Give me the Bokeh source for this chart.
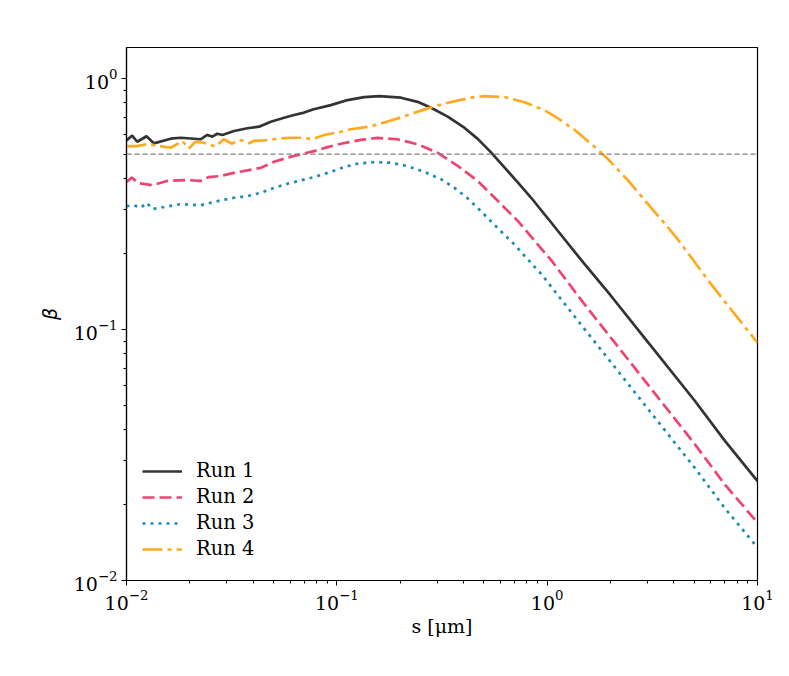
from bokeh.plotting import figure
from bokeh.models import FixedTicker, LogTickFormatter, Span
from bokeh.embed import file_html
from bokeh.resources import INLINE

# ---------------- data ----------------
series_names = ["Run 1", "Run 2", "Run 3", "Run 4"]

s1 = [0.0100, 0.01064, 0.01124, 0.01245, 0.01349, 0.01622, 0.01808, 0.0225, 0.02421,
      0.02558, 0.02703, 0.02856, 0.03245, 0.03758, 0.04268, 0.04853, 0.05613, 0.06263,
      0.06988, 0.07765, 0.0936, 0.1125, 0.1349, 0.159, 0.2017, 0.2421, 0.2805, 0.3366,
      0.4038, 0.4676, 0.541, 0.6263, 0.7248, 0.8393, 0.9707, 1.045, 1.125, 1.5, 2.0,
      3.0, 5.0, 7.0, 10.0]
b1 = [0.567, 0.593, 0.560, 0.589, 0.552, 0.576, 0.581, 0.573, 0.596, 0.587, 0.603,
      0.596, 0.618, 0.634, 0.643, 0.673, 0.698, 0.716, 0.732, 0.755, 0.784, 0.821,
      0.844, 0.852, 0.839, 0.808, 0.765, 0.705, 0.637, 0.575, 0.508, 0.443, 0.386,
      0.335, 0.288, 0.267, 0.247, 0.183, 0.137, 0.0895, 0.0524, 0.0360, 0.0249]

s2 = [0.0100, 0.0106, 0.0114, 0.0133, 0.0156, 0.0195, 0.0225, 0.0246, 0.0280, 0.0324,
      0.0376, 0.0435, 0.0503, 0.0582, 0.0674, 0.0780, 0.0903, 0.1045, 0.1300, 0.1558,
      0.1940, 0.2421, 0.3022, 0.3772, 0.4676, 0.5835, 0.7248, 0.9025, 1.045, 1.5, 2.0,
      3.0, 5.0, 7.0, 10.0]
b2 = [0.387, 0.403, 0.383, 0.376, 0.391, 0.394, 0.391, 0.405, 0.409, 0.421, 0.431,
      0.441, 0.466, 0.484, 0.500, 0.514, 0.533, 0.550, 0.570, 0.580, 0.573, 0.547,
      0.506, 0.448, 0.391, 0.325, 0.271, 0.218, 0.189, 0.1265, 0.0932, 0.0606, 0.0352,
      0.0241, 0.0170]

s3 = [0.0100, 0.0108, 0.0117, 0.0125, 0.0133, 0.0145, 0.0181, 0.0225, 0.0251, 0.0280,
      0.0324, 0.0376, 0.0435, 0.0503, 0.0582, 0.0674, 0.0780, 0.0903, 0.1010, 0.1083,
      0.1252, 0.1507, 0.1808, 0.2167, 0.2606, 0.3133, 0.3624, 0.4193, 0.4752, 0.5497,
      0.6252, 0.6996, 0.7962, 0.936, 1.5, 2.0, 3.0, 5.0, 7.0, 10.0]
b3 = [0.310, 0.313, 0.306, 0.320, 0.302, 0.306, 0.316, 0.313, 0.320, 0.327, 0.335,
      0.340, 0.351, 0.367, 0.381, 0.393, 0.405, 0.421, 0.435, 0.444, 0.458, 0.465,
      0.462, 0.448, 0.425, 0.397, 0.367, 0.333, 0.301, 0.266, 0.239, 0.218, 0.193,
      0.1666, 0.1008, 0.0745, 0.0485, 0.0283, 0.0194, 0.01353]

s4 = [0.0100, 0.0112, 0.0126, 0.0140, 0.0162, 0.0184, 0.0198, 0.0213, 0.0233, 0.0265,
      0.0290, 0.0318, 0.0336, 0.0355, 0.0382, 0.0404, 0.0451, 0.0521, 0.0603, 0.0685,
      0.0764, 0.0870, 0.1045, 0.1166, 0.1452, 0.1743, 0.2017, 0.2172, 0.2704, 0.3366,
      0.4345, 0.5027, 0.6263, 0.7798, 0.9707, 1.083, 1.349, 1.680, 1.945, 2.422, 3.017,
      3.757, 4.188, 6.0, 8.0, 10.0]
b4 = [0.538, 0.538, 0.549, 0.540, 0.530, 0.564, 0.527, 0.560, 0.555, 0.536, 0.573,
      0.550, 0.567, 0.567, 0.552, 0.565, 0.567, 0.576, 0.581, 0.581, 0.573, 0.596,
      0.614, 0.628, 0.645, 0.675, 0.700, 0.715, 0.761, 0.801, 0.839, 0.852, 0.844,
      0.805, 0.748, 0.709, 0.625, 0.535, 0.478, 0.393, 0.316, 0.255, 0.228, 0.152,
      0.112, 0.0886]

threshold = 0.5

x_major = [0.01, 0.1, 1.0, 10.0]
y_major = [0.01, 0.1, 1.0]
x_label = "s [μm]"
y_label = "β"

colors = ["#333333", "#EE4470", "#1B8CB5", "#FFA91F"]
dashes = ["solid", "12 5", "3 5", "20 5 4 5"]

# ---------------- figure ----------------
p = figure(width=781, height=668, x_axis_type="log", y_axis_type="log",
           x_range=(0.01, 10.0), y_range=(0.01, 1.33),
           output_backend="svg", toolbar_location=None,
           min_border_left=126, min_border_right=24, min_border_top=47,
           min_border_bottom=88)

p.grid.visible = False
p.outline_line_color = "black"
p.outline_line_width = 1.2
p.background_fill_color = "white"
p.border_fill_color = "white"

x_minor = [m * t for t in x_major[:-1] for m in range(2, 10)]
y_minor = [m * t for t in y_major for m in range(2, 10)]
p.xaxis.ticker = FixedTicker(ticks=x_major, minor_ticks=x_minor)
p.yaxis.ticker = FixedTicker(ticks=y_major, minor_ticks=y_minor)
p.xaxis.formatter = LogTickFormatter()
p.yaxis.formatter = LogTickFormatter()

for ax in (p.xaxis, p.yaxis):
    ax.axis_line_color = "black"
    ax.axis_line_width = 1.2
    ax.major_tick_out = 5
    ax.major_tick_in = 0
    ax.minor_tick_out = 3
    ax.minor_tick_in = 0
    ax.major_tick_line_color = "black"
    ax.minor_tick_line_color = "black"
    ax.major_label_text_font = "DejaVu Serif"
    ax.major_label_text_font_size = "19px"
    ax.major_label_text_color = "black"
    ax.major_label_standoff = 4
    ax.axis_label_text_font = "DejaVu Serif"
    ax.axis_label_text_font_size = "19px"
    ax.axis_label_text_color = "black"
    ax.axis_label_text_font_style = "normal"

p.xaxis.axis_label = x_label
p.yaxis.axis_label = y_label
p.yaxis.axis_label_text_font = "DejaVu Sans"
p.yaxis.axis_label_text_font_style = "italic"
p.xaxis.axis_label_standoff = 2
p.yaxis.axis_label_standoff = 10

p.add_layout(Span(location=threshold, dimension="width", line_color="#808080",
                  line_width=1.4, line_dash="5 3"))

all_s = [s1, s2, s3, s4]
all_b = [b1, b2, b3, b4]
for name, xs, ys, c, d in zip(series_names, all_s, all_b, colors, dashes):
    p.line(xs, ys, line_color=c, line_width=2.7, line_dash=d, legend_label=name)

lg = p.legend[0]
lg.location = (6, 10)
lg.margin = 0
lg.padding = 10
lg.spacing = 3
lg.glyph_width = 40
lg.glyph_height = 20
lg.label_height = 20
lg.label_standoff = 14
lg.label_text_font = "DejaVu Serif"
lg.label_text_font_size = "19.5px"
lg.label_text_color = "black"
lg.border_line_alpha = 0
lg.background_fill_alpha = 0

open("out.html", "w").write(file_html(p, INLINE))
